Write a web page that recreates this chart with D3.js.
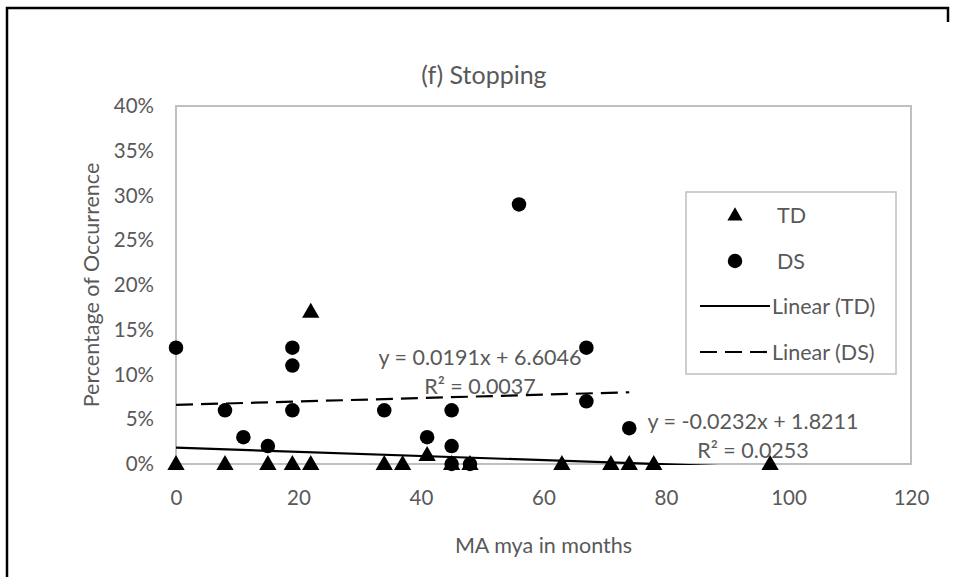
<!DOCTYPE html>
<html>
<head>
<meta charset="utf-8">
<script src="https://cdn.jsdelivr.net/npm/d3@7"></script>
<style>
  html, body { margin: 0; padding: 0; background: #fff; }
  svg { display: block; font-family: Lato, "Open Sans", sans-serif; }
</style>
</head>
<body>
<svg id="chart" width="955" height="577"></svg>
<script>
// Age (months) and percentage of stopping occurrences
const tdMonths = [0, 8, 15, 19, 22, 22, 34, 37, 41, 45, 48, 63, 71, 74, 78, 97];
const tdPercent = [0, 0, 0, 0, 0, 17, 0, 0, 1, 0, 0, 0, 0, 0, 0, 0];
const dsMonths = [0, 8, 11, 15, 19, 19, 19, 34, 41, 45, 45, 45, 48, 56, 67, 67, 74];
const dsPercent = [13, 6, 3, 2, 13, 11, 6, 6, 3, 6, 2, 0, 0, 29, 13, 7, 4];

// Linear trendlines: [slope, intercept, R²]
const tdTrend = [-0.0232, 1.8211, 0.0253];
const dsTrend = [0.0191, 6.6046, 0.0037];

const xTicks = [0, 20, 40, 60, 80, 100, 120];
const yTicks = [0, 5, 10, 15, 20, 25, 30, 35, 40];
const legendLabels = ["TD", "DS", "Linear (TD)", "Linear (DS)"];

const textColor = "#595959";
const frameColor = "#bfbfbf";
const fontFamily = "Lato, 'Open Sans', sans-serif";

const svg = d3.select("#chart");
const plot = { left: 176, right: 911, top: 106, bottom: 464 };

const x = d3.scaleLinear().domain([0, 120]).range([plot.left, plot.right]);
const y = d3.scaleLinear().domain([0, 40]).range([plot.bottom, plot.top]);

// outer chart frame
svg.append("path")
  .attr("d", `M7,577 L7,8 L948,8 L948,22`)
  .attr("fill", "none").attr("stroke", "#000").attr("stroke-width", 2.5);

// title
svg.append("text")
  .attr("x", 484).attr("y", 84)
  .attr("text-anchor", "middle")
  .attr("font-size", 25).attr("fill", textColor)
  .text("(f) Stopping");

// plot area border
svg.append("rect")
  .attr("x", plot.left).attr("y", plot.top)
  .attr("width", plot.right - plot.left).attr("height", plot.bottom - plot.top)
  .attr("fill", "none").attr("stroke", frameColor).attr("stroke-width", 2);

// axes
const xAxis = svg.append("g")
  .attr("transform", `translate(0,${plot.bottom})`)
  .call(d3.axisBottom(x).tickValues(xTicks).tickSize(0).tickPadding(26).tickFormat(d3.format("d")));
const yAxis = svg.append("g")
  .attr("transform", `translate(${plot.left},0)`)
  .call(d3.axisLeft(y).tickValues(yTicks).tickSize(0).tickPadding(22).tickFormat(d => d + "%"));
[xAxis, yAxis].forEach(g => {
  g.select(".domain").remove();
  g.selectAll("text").attr("font-family", fontFamily)
    .attr("font-size", 20.5).attr("fill", textColor);
});

// axis titles
svg.append("text")
  .attr("x", (plot.left + plot.right) / 2).attr("y", 553)
  .attr("text-anchor", "middle").attr("font-size", 21.5).attr("fill", textColor)
  .text("MA mya in months");
svg.append("text")
  .attr("transform", `translate(99,${(plot.top + plot.bottom) / 2}) rotate(-90)`)
  .attr("text-anchor", "middle").attr("font-size", 21.5).attr("fill", textColor)
  .text("Percentage of Occurrence");

// clip for trendlines
svg.append("clipPath").attr("id", "plotClip")
  .append("rect")
  .attr("x", plot.left).attr("y", plot.top)
  .attr("width", plot.right - plot.left).attr("height", plot.bottom - plot.top + 1);

const line = d3.line().x(d => x(d[0])).y(d => y(d[1]));
function trendPoints(t, xs) {
  const lo = d3.min(xs), hi = d3.max(xs);
  return [[lo, t[0] * lo + t[1]], [hi, t[0] * hi + t[1]]];
}

const triangle = d3.symbol().type(d3.symbolTriangle).size(130);
const circle = d3.symbol().type(d3.symbolCircle).size(165);

// TD trendline
svg.append("path")
  .attr("clip-path", "url(#plotClip)")
  .attr("d", line(trendPoints(tdTrend, tdMonths)))
  .attr("fill", "none").attr("stroke", "#000").attr("stroke-width", 2.2);
// DS trendline
svg.append("path")
  .attr("clip-path", "url(#plotClip)")
  .attr("d", line(trendPoints(dsTrend, dsMonths)))
  .attr("fill", "none").attr("stroke", "#000").attr("stroke-width", 2.2)
  .attr("stroke-dasharray", "17,8");

// DS points
svg.append("g").selectAll("path")
  .data(dsMonths.map((m, i) => [m, dsPercent[i]]))
  .join("path")
  .attr("transform", d => `translate(${x(d[0])},${y(d[1])})`)
  .attr("d", circle).attr("fill", "#000");

// TD points
svg.append("g").selectAll("path")
  .data(tdMonths.map((m, i) => [m, tdPercent[i]]))
  .join("path")
  .attr("transform", d => `translate(${x(d[0])},${y(d[1]) + 1})`)
  .attr("d", triangle).attr("fill", "#000");

// trendline equations
const fmtEq = t => `y = ${t[0]}x + ${t[1]}`;
const fmtR = t => `R² = ${t[2]}`;
function eqLabel(t, cx, cy) {
  const g = svg.append("g").attr("font-size", 21.5).attr("fill", textColor).attr("text-anchor", "middle");
  g.append("text").attr("x", cx).attr("y", cy).text(fmtEq(t));
  g.append("text").attr("x", cx).attr("y", cy + 29).text(fmtR(t));
}
eqLabel(dsTrend, 480, 365);
eqLabel(tdTrend, 753, 429);

// legend
const lg = svg.append("g");
lg.append("rect")
  .attr("x", 686).attr("y", 192).attr("width", 210).attr("height", 182)
  .attr("fill", "#fff").attr("stroke", frameColor).attr("stroke-width", 1.5);
const rows = [215, 261, 306, 352];
lg.append("path").attr("transform", `translate(735,${rows[0] + 1})`).attr("d", d3.symbol().type(d3.symbolTriangle).size(100)).attr("fill", "#000");
lg.append("path").attr("transform", `translate(735,${rows[1]})`).attr("d", d3.symbol().type(d3.symbolCircle).size(165)).attr("fill", "#000");
lg.append("line").attr("x1", 700).attr("x2", 770).attr("y1", rows[2]).attr("y2", rows[2])
  .attr("stroke", "#000").attr("stroke-width", 2.2);
lg.append("line").attr("x1", 700).attr("x2", 770).attr("y1", rows[3]).attr("y2", rows[3])
  .attr("stroke", "#000").attr("stroke-width", 2.2).attr("stroke-dasharray", "17,8");
lg.selectAll("text.lbl").data(legendLabels).join("text")
  .attr("class", "lbl")
  .attr("x", (d, i) => i < 2 ? 777 : 772)
  .attr("y", (d, i) => rows[i] + 7.5)
  .attr("font-size", 21.5).attr("fill", textColor)
  .text(d => d);
</script>
</body>
</html>
